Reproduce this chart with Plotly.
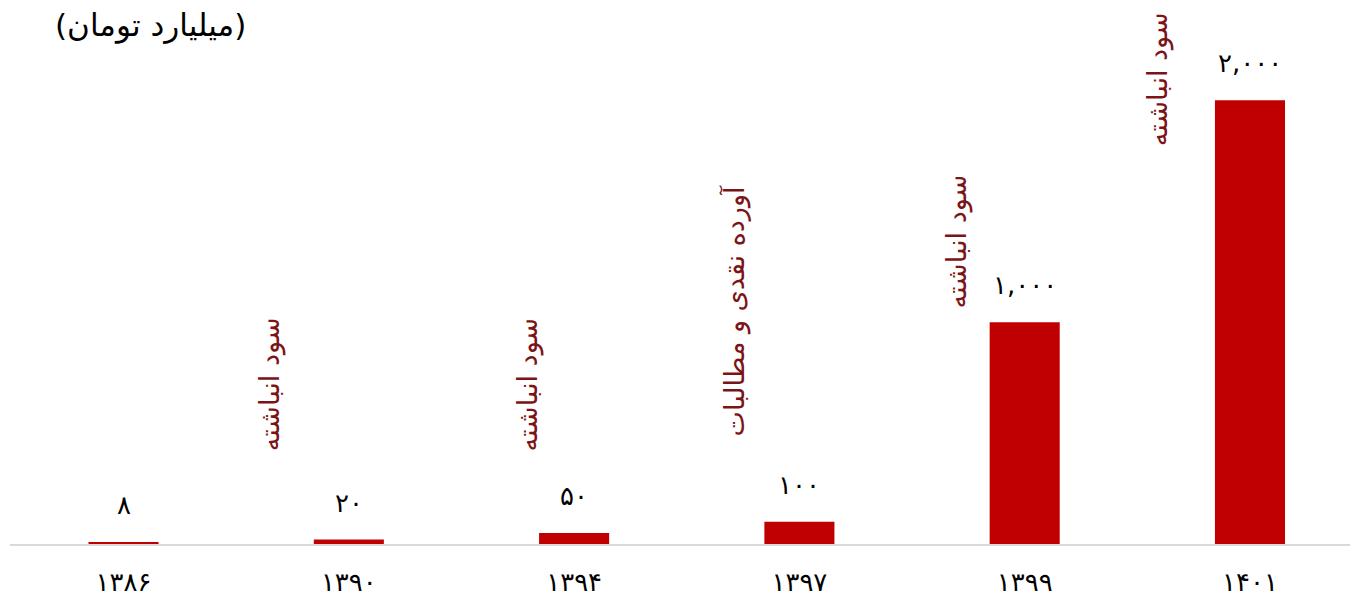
import plotly.graph_objects as go

years = ["۱۳۸۶", "۱۳۹۰", "۱۳۹۴", "۱۳۹۷", "۱۳۹۹", "۱۴۰۱"]
values = [8, 20, 50, 100, 1000, 2000]
value_labels = ["۸", "۲۰", "۵۰", "۱۰۰", "۱,۰۰۰", "۲,۰۰۰"]
note_texts = ["", "سود انباشته", "سود انباشته", "آورده نقدی و مطالبات", "سود انباشته", "سود انباشته"]
note_levels = [0, 719, 719, 1050, 1362, 2095]
note_xshift = [0, -78, -46, -64, -68, -92]

FONT = "DejaVu Sans"
idx = list(range(len(years)))

fig = go.Figure()
fig.add_trace(go.Bar(
    x=idx, y=values, width=0.311,
    marker=dict(color="#C00000", line=dict(width=0)),
    hoverinfo="skip",
))

for i, (v, lab) in enumerate(zip(values, value_labels)):
    fig.add_annotation(x=i, y=v, text=lab, showarrow=False, yanchor="middle",
                       yshift=37, font=dict(family=FONT, size=26, color="#000000"))

for i, (t, lv, xs) in enumerate(zip(note_texts, note_levels, note_xshift)):
    if not t:
        continue
    fig.add_annotation(x=i, y=lv, text=t, showarrow=False, textangle=-90,
                       xshift=xs, xanchor="center", yanchor="middle",
                       font=dict(family=FONT, size=27, color="#7B1416"))

fig.add_annotation(xref="paper", yref="paper", x=(150 - 10) / 1340, y=1,
                   yshift=-25, text="(میلیارد تومان)", showarrow=False,
                   xanchor="center", yanchor="middle",
                   font=dict(family=FONT, size=31, color="#000000"))

fig.update_layout(
    width=1350, height=598,
    margin=dict(l=10, r=0, t=0, b=54),
    paper_bgcolor="white", plot_bgcolor="white",
    showlegend=False,
    xaxis=dict(range=[-0.504, 5.444], tickvals=idx, ticktext=years,
               showgrid=False, zeroline=False, showline=True,
               linecolor="#d9d9d9", linewidth=2, ticks="",
               ticklabelstandoff=14,
               tickfont=dict(family=FONT, size=26, color="#000000")),
    yaxis=dict(range=[0, 2452], visible=False, showgrid=False, zeroline=False),
)

fig.write_html("out.html", config={"displayModeBar": False},
               post_script="document.body.style.margin='0';document.body.style.overflow='hidden';")
